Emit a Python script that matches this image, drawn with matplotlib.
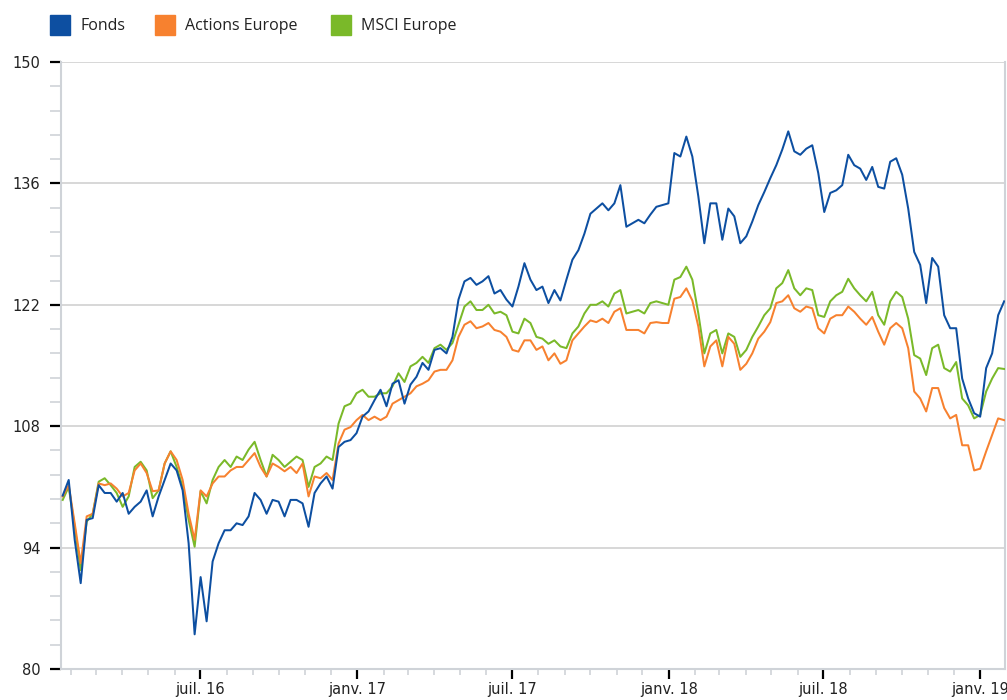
import numpy as np
import pandas as pd
import matplotlib
matplotlib.use("Agg")
from matplotlib import pyplot as plt
from matplotlib import dates as mdates
from matplotlib.patches import Rectangle

# weekly readings, Jan 2016 -> Jan 2019
start_date = "2016-01-22"
end_date = "2019-01-29"

fonds = [
    100.0, 101.8, 94.9, 89.9, 97.2, 97.4, 101.2, 100.3, 100.3, 99.3,
    100.3, 97.9, 98.7, 99.3, 100.6, 97.6, 99.9, 101.8, 103.7, 102.9,
    100.6, 94.5, 84.0, 90.6, 85.5, 92.4, 94.5, 96.0, 96.0, 96.8,
    96.6, 97.6, 100.3, 99.5, 97.9, 99.5, 99.3, 97.6, 99.5,
    99.5, 99.1, 96.4, 100.3, 101.4, 102.2, 100.8, 105.6, 106.2, 106.4,
    107.2, 109.1, 109.7, 111.0, 112.2, 110.3, 112.9, 113.3, 110.6, 112.8,
    113.7, 115.3, 114.5, 116.8, 117.0, 116.4, 118.3, 122.6, 124.7, 125.1,
    124.3, 124.7, 125.3, 123.3, 123.7, 122.6, 121.8, 124.1, 126.8,
    124.9, 123.7, 124.1, 122.2, 123.7, 122.5, 124.9, 127.2, 128.3, 130.2,
    132.5, 133.1, 133.7, 132.9, 133.7, 135.8, 131.0, 131.4, 131.8, 131.4,
    132.4, 133.3, 133.5, 133.7, 139.5, 139.1, 141.4, 139.1, 134.5, 129.1,
    133.7, 133.7, 129.5, 133.1, 132.2, 129.1, 129.9, 131.6, 133.5,
    135.0, 136.6, 138.1, 139.9, 142.0, 139.7, 139.3, 140.0, 140.4, 137.2,
    132.7, 134.9, 135.2, 135.8, 139.3, 138.1, 137.7, 136.4, 137.9, 135.6,
    135.4, 138.5, 138.9, 137.0, 133.1, 128.1, 126.6, 122.2, 127.4, 126.4,
    120.8, 119.3, 119.3, 113.5, 111.2, 109.5, 109.1, 114.7, 116.4, 120.8,
    122.4,
]

actions_europe = [
    99.9, 101.2, 96.8, 92.2, 97.6, 97.9, 101.4, 101.2, 101.4, 100.8,
    99.9, 100.3, 102.9, 103.7, 102.6, 100.5, 100.6, 103.7, 105.1, 104.1,
    101.8, 97.9, 94.9, 100.6, 99.9, 101.4, 102.2, 102.2, 102.9, 103.3,
    103.3, 104.1, 104.9, 103.3, 102.2, 103.7, 103.3, 102.8, 103.3,
    102.6, 103.7, 99.9, 102.2, 102.0, 102.6, 101.8, 106.0, 107.6, 107.9,
    108.7, 109.3, 108.7, 109.1, 108.7, 109.1, 110.6, 111.0, 111.4, 111.8,
    112.6, 112.9, 113.3, 114.3, 114.5, 114.5, 115.6, 118.3, 119.7, 120.1,
    119.3, 119.5, 119.9, 119.1, 118.9, 118.3, 116.8, 116.6, 117.9,
    117.9, 116.8, 117.2, 115.6, 116.4, 115.2, 115.6, 117.9, 118.7, 119.5,
    120.2, 120.0, 120.4, 119.9, 121.2, 121.6, 119.1, 119.1, 119.1, 118.7,
    119.9, 120.0, 119.9, 119.9, 122.7, 122.9, 123.9, 122.5, 119.5, 114.9,
    117.2, 117.9, 114.9, 118.3, 117.5, 114.5, 115.2, 116.4, 118.1,
    118.9, 120.0, 122.2, 122.4, 123.1, 121.6, 121.2, 121.8, 121.6, 119.3,
    118.7, 120.4, 120.8, 120.8, 121.8, 121.2, 120.4, 119.7, 120.6, 118.9,
    117.4, 119.3, 119.9, 119.3, 117.0, 112.0, 111.2, 109.7, 112.4, 112.4,
    110.1, 108.9, 109.3, 105.8, 105.8, 102.9, 103.1, 105.1, 107.0, 108.9,
    108.7,
]

msci_europe = [
    99.5, 101.0, 96.4, 91.4, 97.0, 97.9, 101.6, 102.0, 101.2, 100.3,
    98.7, 99.9, 103.3, 103.9, 102.9, 99.7, 100.6, 103.7, 105.1, 103.3,
    101.0, 97.2, 94.1, 100.5, 99.1, 101.8, 103.3, 104.1, 103.3, 104.5,
    104.1, 105.3, 106.2, 104.1, 102.2, 104.7, 104.1, 103.3, 103.9,
    104.5, 104.1, 101.0, 103.3, 103.7, 104.5, 104.1, 108.3, 110.3, 110.6,
    111.8, 112.2, 111.4, 111.4, 111.8, 111.8, 112.6, 114.1, 113.1, 114.9,
    115.3, 116.0, 115.3, 117.0, 117.4, 116.8, 117.6, 119.7, 121.8, 122.4,
    121.4, 121.4, 122.0, 121.0, 121.2, 120.8, 118.9, 118.7, 120.4,
    119.9, 118.3, 118.1, 117.5, 117.9, 117.2, 117.0, 118.7, 119.5, 121.0,
    122.0, 122.0, 122.4, 121.8, 123.3, 123.7, 121.0, 121.2, 121.4, 121.0,
    122.2, 122.4, 122.2, 122.0, 124.9, 125.2, 126.4, 124.9, 121.0, 116.4,
    118.7, 119.1, 116.4, 118.7, 118.3, 116.0, 116.8, 118.3, 119.5,
    120.8, 121.6, 123.9, 124.5, 126.0, 123.9, 123.1, 123.9, 123.7, 120.8,
    120.6, 122.4, 123.1, 123.5, 125.0, 123.9, 123.1, 122.4, 123.5, 120.8,
    119.7, 122.4, 123.5, 122.9, 120.4, 116.2, 115.8, 113.9, 117.0, 117.4,
    114.7, 114.3, 115.4, 111.2, 110.4, 108.9, 109.3, 112.0, 113.5, 114.7,
    114.6,
]

series_names = ["Fonds", "Actions Europe", "MSCI Europe"]
series_colors = ["#0D4FA1", "#F7812F", "#7AB929"]

x_tick_dates = ["2016-07-01", "2017-01-01", "2017-07-01", "2018-01-01", "2018-07-01", "2019-01-01"]
x_tick_labels = ["juil. 16", "janv. 17", "juil. 17", "janv. 18", "juil. 18", "janv. 19"]
y_ticks = [80, 94, 108, 122, 136, 150]


def main():
    dates = pd.date_range(start_date, end_date, periods=len(fonds))

    fig = plt.figure(figsize=(10.07, 7.0), dpi=100)
    ax = fig.add_axes([61 / 1007, 1 - 669 / 700, (1005 - 61) / 1007, (669 - 62) / 700])

    values = [fonds, actions_europe, msci_europe]
    # green under orange under blue
    for k in [2, 1, 0]:
        ax.plot(dates, values[k], color=series_colors[k], lw=1.45, zorder=3 + (2 - k))

    ax.set_ylim(80, 150)
    ax.set_xlim(pd.Timestamp("2016-01-20"), pd.Timestamp("2019-01-30"))

    ax.set_yticks(y_ticks)
    ax.set_yticks(np.arange(80, 150.01, 2.8), minor=True)
    ax.set_xticks(pd.to_datetime(x_tick_dates))
    ax.set_xticklabels(x_tick_labels)
    ax.xaxis.set_minor_locator(mdates.MonthLocator())

    ax.grid(axis="y", which="major", color="#d4d4d4", lw=1.3, zorder=1)
    ax.tick_params(axis="y", which="major", length=8, width=1.6, color="black",
                   labelsize=10.5, labelcolor="#222222", pad=7)
    ax.tick_params(axis="y", which="minor", length=8, width=1.2, color="#cfd3d8")
    ax.tick_params(axis="x", which="major", length=7.2, width=1.6, color="black",
                   labelsize=10.5, labelcolor="#222222", pad=2)
    ax.tick_params(axis="x", which="minor", length=4.3, width=1.2, color="#cfd3d8")

    for side in ["left", "bottom", "right"]:
        ax.spines[side].set_color("#cfd3d8")
        ax.spines[side].set_linewidth(1.5)
    ax.spines["top"].set_visible(False)

    # legend row on top
    legend_x = [50, 155, 331]
    for k, name in enumerate(series_names):
        x0 = legend_x[k]
        fig.patches.append(Rectangle((x0 / 1007, 1 - 35 / 700), 20 / 1007, 20 / 700,
                                     transform=fig.transFigure, color=series_colors[k]))
        fig.text((x0 + 30) / 1007, 1 - 26 / 700, name, fontsize=11.5, family="Open Sans",
                 color="#222222", va="center", ha="left")

    fig.savefig("out.png", dpi=100)


if __name__ == '__main__':
    main()
